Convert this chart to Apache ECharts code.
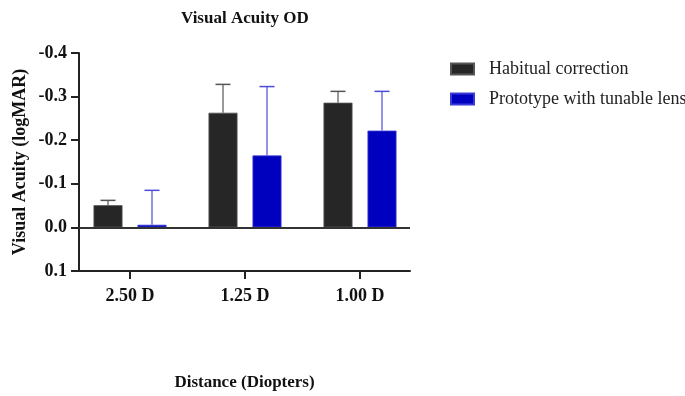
<!DOCTYPE html>
<html><head><meta charset="utf-8">
<script src="https://cdn.jsdelivr.net/npm/echarts@6/dist/echarts.min.js"></script>
<style>html,body{margin:0;padding:0;background:#fff}#c{width:685px;height:396px}</style>
</head><body><div id="c"></div>
<script>
const categories = ['2.50 D', '1.25 D', '1.00 D'];
const habitual = [-0.051, -0.263, -0.286];
const habitualErrTop = [-0.062, -0.328, -0.312];
const prototype = [-0.006, -0.165, -0.222];
const prototypeErrTop = [-0.085, -0.323, -0.312];
const yTicks = [-0.4, -0.3, -0.2, -0.1, 0.0, 0.1];

const FONT = 'Liberation Serif';
const BAR_W = 29, BAR_GAP = 15;
const OFF = (BAR_W + BAR_GAP) / 2;

function errSeries(name, vals, tops, color, dir) {
  return {
    type: 'custom', name: name + ' err', z: 5, silent: true,
    data: vals.map((v, i) => [i, v, tops[i]]),
    renderItem: function (params, api) {
      const base = api.coord([api.value(0), api.value(1)]);
      const top = api.coord([api.value(0), api.value(2)]);
      const x = base[0] + dir * OFF;
      const cap = 7.5;
      return {
        type: 'group', children: [
          {type: 'line', shape: {x1: x, y1: base[1], x2: x, y2: top[1]}, style: {stroke: color, lineWidth: 1.2}},
          {type: 'line', shape: {x1: x - cap, y1: top[1], x2: x + cap, y2: top[1]}, style: {stroke: color, lineWidth: 1.5}}
        ]
      };
    }
  };
}

const chart = echarts.init(document.getElementById('c'), null, {renderer: 'canvas'});
chart.setOption({
  animation: false,
  backgroundColor: '#fff',
  title: {
    text: 'Visual Acuity OD', left: 176, top: 5,
    textStyle: {fontFamily: FONT, fontWeight: 'bold', fontSize: 17, color: '#111'}
  },
  legend: {
    orient: 'vertical', left: 445, top: 55, itemWidth: 23, itemHeight: 11, itemGap: 12,
    icon: 'rect',
    data: ['Habitual correction', 'Prototype with tunable lens'],
    textStyle: {fontFamily: FONT, fontSize: 18, color: '#222', padding: [0, 0, 0, 10]}
  },
  grid: {left: 79, top: 53, width: 331, height: 220, containLabel: false},
  xAxis: {
    type: 'value', min: -0.4435, max: 2.4348,
    name: 'Distance (Diopters)', nameLocation: 'middle', nameGap: 103,
    nameTextStyle: {fontFamily: FONT, fontWeight: 'bold', fontSize: 17, color: '#111'},
    splitLine: {show: false},
    axisLine: {show: true, onZero: false, lineStyle: {color: '#222', width: 2}},
    axisTick: {show: true, customValues: [0, 1, 2], length: 8, lineStyle: {color: '#222', width: 2}},
    axisLabel: {
      customValues: [0, 1, 2], margin: 16,
      formatter: v => categories[Math.round(v)] || '',
      fontFamily: FONT, fontWeight: 'bold', fontSize: 18, color: '#111'
    }
  },
  yAxis: {
    type: 'value', min: -0.4, max: 0.1, interval: 0.1, inverse: true,
    name: 'Visual Acuity (logMAR)', nameLocation: 'middle', nameGap: 50,
    nameTextStyle: {fontFamily: FONT, fontWeight: 'bold', fontSize: 18, color: '#111'},
    splitLine: {show: false},
    axisLine: {show: true, onZero: false, lineStyle: {color: '#222', width: 2}},
    axisTick: {show: true, length: 8, lineStyle: {color: '#222', width: 2}},
    axisLabel: {
      margin: 12, fontFamily: FONT, fontWeight: 'bold', fontSize: 18, color: '#111',
      formatter: v => (Math.abs(v) < 1e-9 ? 0 : v).toFixed(1)
    }
  },
  series: [
    {
      name: 'Habitual correction', type: 'bar', barWidth: BAR_W, barGap: (BAR_GAP / BAR_W * 100) + '%',
      data: habitual.map((v, i) => [i, v]),
      itemStyle: {color: '#262626', borderColor: '#555', borderWidth: 0.8},
      markLine: {
        silent: true, symbol: ['none', 'none'], label: {show: false},
        lineStyle: {color: '#333', width: 2, type: 'solid'},
        data: [{yAxis: 0}]
      }
    },
    {
      name: 'Prototype with tunable lens', type: 'bar', barWidth: BAR_W,
      data: prototype.map((v, i) => [i, v]),
      itemStyle: {color: '#0000bf', borderColor: '#3a3ad6', borderWidth: 0.8}
    },
    errSeries('Habitual correction', habitual, habitualErrTop, '#555555', -1),
    errSeries('Prototype with tunable lens', prototype, prototypeErrTop, '#4b4bd8', 1)
  ]
});
</script>
</body></html>
